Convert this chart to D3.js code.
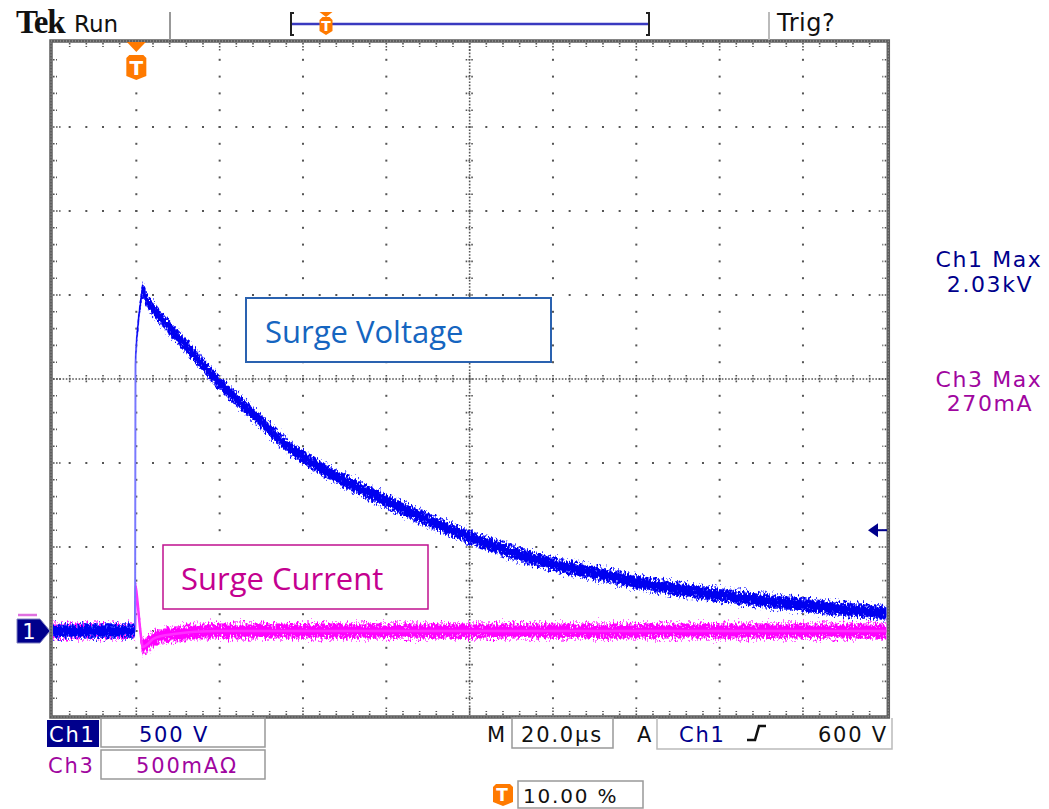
<!DOCTYPE html>
<html><head><meta charset="utf-8">
<script src="https://cdn.jsdelivr.net/npm/d3@7"></script>
<style>body{margin:0;background:#fff}svg{display:block}</style>
</head><body><svg id="c" width="1049" height="809" font-family="'DejaVu Sans',sans-serif"></svg>
<script>
// ---- data ----
const timeV   = [-20, -0.3, -0.2, 0.4, 1.0, 1.6, 2.4, 4, 8, 12, 19.3, 28, 36, 51, 61, 70, 80, 90, 99, 109, 120, 140, 160, 180]; // µs
const voltage = [0, 0, 1583, 1821, 1950, 2030, 1975, 1920, 1804, 1696, 1494, 1292, 1107, 881, 762, 661, 560, 470, 405, 351, 292, 214, 155, 107]; // V
const timeI   = [-20, -0.3, -0.2, 0.3, 0.8, 1.6, 2.6, 4, 6, 9, 14, 20, 180]; // µs
const current = [0, 0, 270, 170, 40, -95, -80, -48, -30, -18, -5, 0, 0]; // mA
const timeDomain = [-20, 180];   // 20 µs/div, trigger at 10 %
const ch1Domain  = [-500, 3500]; // 500 V/div
const ch3Domain  = [-500, 3500]; // 500 mA/div
const trigLevel  = 600;          // V
const xDivs = 10, yDivs = 8;
const readouts = {ch1Scale: "500 V", ch3Scale: "500mAΩ", timebase: "20.0µs", trigSrc: "Ch1", trigLvl: "600 V", trigPos: "10.00 %",
  ch1Max: ["Ch1 Max", "2.03kV"], ch3Max: ["Ch3 Max", "270mA"]};
const labels = {v: "Surge Voltage", i: "Surge Current"};

// ---- layout ----
const L = 53, R = 886.3, T = 43, B = 715;
const NAVY = "#00008c", PURP = "#a0069f", ORANGE = "#ff7a00", GRID = "#555";
const svg = d3.select("#c");
const x = d3.scaleLinear(timeDomain, [L, R]);
const yV = d3.scaleLinear(ch1Domain, [B, T]);
const yI = d3.scaleLinear(ch3Domain, [B, T]);
const dx = (R - L) / xDivs, dy = (B - T) / yDivs;

const defs = svg.append("defs");
function noiseFilter(id, seed, sc) {
  const f = defs.append("filter").attr("id", id).attr("filterUnits", "userSpaceOnUse")
    .attr("x", 0).attr("y", 0).attr("width", 1049).attr("height", 809);
  f.append("feTurbulence").attr("type", "fractalNoise").attr("baseFrequency", "0.6 0.3")
    .attr("numOctaves", 2).attr("seed", seed).attr("result", "t");
  f.append("feColorMatrix").attr("in", "t").attr("type", "matrix")
    .attr("values", "0 0 0 0 0.5  0 1 0 0 0  0 0 0 0 0  0 0 0 0 1").attr("result", "m");
  f.append("feDisplacementMap").attr("in", "SourceGraphic").attr("in2", "m").attr("scale", sc)
    .attr("xChannelSelector", "R").attr("yChannelSelector", "G");
}
noiseFilter("nB", 3, 14);
noiseFilter("nM", 7, 16);

// ---- grid ----
const g = svg.append("g");
const minorX = d3.range(1, xDivs * 5).map(k => L + k * dx / 5);
const minorY = d3.range(1, yDivs * 5).map(k => T + k * dy / 5);
for (let i = 1; i < xDivs; i++) {
  if (i === xDivs / 2) continue;
  const xx = L + i * dx;
  minorY.forEach(yy => g.append("rect").attr("x", xx - 1).attr("y", yy - 1).attr("width", 2).attr("height", 2).attr("fill", GRID));
}
for (let j = 1; j < yDivs; j++) {
  if (j === yDivs / 2) continue;
  const yy = T + j * dy;
  minorX.forEach(xx => g.append("rect").attr("x", xx - 1).attr("y", yy - 1).attr("width", 2).attr("height", 2).attr("fill", GRID));
}
const cx = L + dx * xDivs / 2, cy = T + dy * yDivs / 2;
g.append("line").attr("x1", L).attr("x2", R).attr("y1", cy).attr("y2", cy)
  .attr("stroke", GRID).attr("stroke-width", 1.6).attr("stroke-dasharray", "1.6,1.6");
g.append("line").attr("x1", cx).attr("x2", cx).attr("y1", T).attr("y2", B)
  .attr("stroke", GRID).attr("stroke-width", 1.6).attr("stroke-dasharray", "1.6,1.6");
minorX.forEach(xx => g.append("line").attr("x1", xx).attr("x2", xx).attr("y1", cy - 4).attr("y2", cy + 4)
  .attr("stroke", GRID).attr("stroke-width", 1.6).attr("stroke-dasharray", "1.6,1.2"));
minorY.forEach(yy => g.append("line").attr("x1", cx - 4).attr("x2", cx + 4).attr("y1", yy).attr("y2", yy)
  .attr("stroke", GRID).attr("stroke-width", 1.6).attr("stroke-dasharray", "1.6,1.2"));
function tk(x1, y1, x2, y2) {
  g.append("line").attr("x1", x1).attr("y1", y1).attr("x2", x2).attr("y2", y2)
    .attr("stroke", GRID).attr("stroke-width", 1.6).attr("stroke-dasharray", "1.6,1.4");
}
minorX.forEach((xx, k) => { const len = (k + 1) % 5 === 0 ? 9 : 4; tk(xx, T, xx, T + len); tk(xx, B, xx, B - len); });
minorY.forEach((yy, k) => { const len = (k + 1) % 5 === 0 ? 9 : 4; tk(L, yy, L + len, yy); tk(R, yy, R - len, yy); });
g.append("rect").attr("x", L - 2).attr("y", T - 2).attr("width", R - L + 4).attr("height", B - T + 4)
  .attr("fill", "none").attr("stroke", "#5e5e5e").attr("stroke-width", 3.5);
g.append("rect").attr("x", L - 2).attr("y", T - 2).attr("width", R - L + 4).attr("height", B - T + 4)
  .attr("fill", "none").attr("stroke", "#aaa").attr("stroke-width", 1).attr("stroke-dasharray", "1,2");

// ---- traces ----
const vData = timeV.map((t, i) => ({t, v: voltage[i]}));
const iData = timeI.map((t, i) => ({t, v: current[i]}));
function band(data, ys, hw) {
  return d3.area().x(d => x(d.t)).y0(d => ys(d.v) - hw).y1(d => ys(d.v) + hw).curve(d3.curveMonotoneX)(data);
}
const lineV = d3.line().x(d => x(d.t)).y(d => yV(d.v)).curve(d3.curveMonotoneX);
const lineI = d3.line().x(d => x(d.t)).y(d => yI(d.v)).curve(d3.curveMonotoneX);
const tr = svg.append("g");
tr.append("path").attr("d", band(iData, yI, 8)).attr("fill", "#ff70ff").attr("filter", "url(#nM)");
tr.append("path").attr("d", band(iData, yI, 6)).attr("fill", "#ff00ff").attr("filter", "url(#nM)");
tr.append("path").attr("d", lineI(iData)).attr("fill", "none").attr("stroke", "#ff30ff").attr("stroke-width", 2.5);
tr.append("path").attr("d", lineV(vData)).attr("fill", "none").attr("stroke", "#7b7bff").attr("stroke-width", 2);
tr.append("path").attr("d", band(vData, yV, 7)).attr("fill", "#5050ff").attr("filter", "url(#nB)");
tr.append("path").attr("d", band(vData, yV, 5.5)).attr("fill", "#0000f0").attr("filter", "url(#nB)");

// ---- markers ----
function tShape(gg, cxm, t0, w, h) {
  gg.append("path").attr("d", `M${cxm - w / 2},${t0}L${cxm + w / 2},${t0}L${cxm},${t0 + h}Z`).attr("fill", ORANGE);
}
function tBox(gg, cxm, t0, w, h, fs) {
  gg.append("path").attr("d", `M${cxm - w / 2 + 3},${t0}H${cxm + w / 2 - 3}L${cxm + w / 2},${t0 + 3}V${t0 + h - 4}L${cxm},${t0 + h}L${cxm - w / 2},${t0 + h - 4}V${t0 + 3}Z`).attr("fill", ORANGE);
  gg.append("text").attr("x", cxm).attr("y", t0 + h * 0.78).attr("text-anchor", "middle").attr("fill", "#fff")
    .attr("font-weight", "bold").attr("font-size", fs).text("T");
}
const mk = svg.append("g");
tShape(mk, x(0), T - 1, 19, 10);
tBox(mk, x(0), 55, 20, 25, 20);
mk.append("line").attr("x1", 18).attr("x2", 37).attr("y1", yI(0) - 16).attr("y2", yI(0) - 16).attr("stroke", "#e070e0").attr("stroke-width", 2.5);
const gy = yV(0);
mk.append("path").attr("d", `M17,${gy - 12}H40L50,${gy}L40,${gy + 12}H17Z`).attr("fill", NAVY).attr("stroke", "#8080c0").attr("stroke-width", 1);
mk.append("text").attr("x", 29).attr("y", gy + 8).attr("text-anchor", "middle").attr("fill", "#fff").attr("font-size", 21).text("1");
const ty = yV(trigLevel);
mk.append("path").attr("d", `M868,${ty}L878,${ty - 7}V${ty + 7}Z`).attr("fill", NAVY);
mk.append("line").attr("x1", 876).attr("x2", 887).attr("y1", ty).attr("y2", ty).attr("stroke", NAVY).attr("stroke-width", 2);

// ---- top bar ----
const topBar = svg.append("g");
topBar.append("text").attr("x", 16).attr("y", 33).attr("font-family", "'Liberation Serif',serif").attr("font-weight", "bold")
  .attr("font-size", 33).attr("letter-spacing", -1.2).attr("fill", "#111").text("Tek");
topBar.append("text").attr("x", 74).attr("y", 32).attr("font-size", 23).attr("fill", "#111").text("Run");
topBar.append("line").attr("x1", 170).attr("x2", 170).attr("y1", 12).attr("y2", 40).attr("stroke", "#999").attr("stroke-width", 2);
topBar.append("line").attr("x1", 769).attr("x2", 769).attr("y1", 12).attr("y2", 40).attr("stroke", "#bbb").attr("stroke-width", 2);
topBar.append("text").attr("x", 777).attr("y", 31).attr("font-size", 24).attr("fill", "#111").attr("letter-spacing", 0.5).text("Trig?");
topBar.append("line").attr("x1", 292).attr("x2", 648).attr("y1", 24).attr("y2", 24).attr("stroke", "#3a3ac0").attr("stroke-width", 2.5);
topBar.append("path").attr("d", "M294,13H291V35H294").attr("fill", "none").attr("stroke", "#222").attr("stroke-width", 2);
topBar.append("path").attr("d", "M646,13H649V35H646").attr("fill", "none").attr("stroke", "#222").attr("stroke-width", 2);
tShape(topBar, 326, 12, 13, 5);
tBox(topBar, 326, 17, 13, 18, 14);

// ---- right readouts ----
const rr = svg.append("g").attr("font-size", 22).attr("letter-spacing", 1.6).attr("text-anchor", "middle");
rr.append("text").attr("x", 989).attr("y", 267).attr("fill", NAVY).text(readouts.ch1Max[0]);
rr.append("text").attr("x", 990).attr("y", 292).attr("fill", NAVY).text(readouts.ch1Max[1]);
rr.append("text").attr("x", 989).attr("y", 387).attr("fill", PURP).text(readouts.ch3Max[0]);
rr.append("text").attr("x", 990).attr("y", 411).attr("fill", PURP).text(readouts.ch3Max[1]);

// ---- bottom readouts ----
const bt = svg.append("g").attr("font-size", 21).attr("letter-spacing", 1.8);
bt.append("rect").attr("x", 47).attr("y", 720).attr("width", 52).attr("height", 27).attr("fill", NAVY);
bt.append("text").attr("x", 49).attr("y", 742).attr("fill", "#fff").text("Ch1");
bt.append("rect").attr("x", 101).attr("y", 718).attr("width", 164).attr("height", 29).attr("fill", "none").attr("stroke", "#999").attr("stroke-width", 1.5);
bt.append("text").attr("x", 174).attr("y", 742).attr("text-anchor", "middle").attr("fill", NAVY).text(readouts.ch1Scale);
bt.append("text").attr("x", 48).attr("y", 773).attr("fill", PURP).text("Ch3");
bt.append("rect").attr("x", 101).attr("y", 750).attr("width", 164).attr("height", 29).attr("fill", "none").attr("stroke", "#999").attr("stroke-width", 1.5);
bt.append("text").attr("x", 187).attr("y", 773).attr("text-anchor", "middle").attr("fill", PURP).text(readouts.ch3Scale);
bt.append("text").attr("x", 487).attr("y", 742).attr("fill", "#111").text("M");
bt.append("rect").attr("x", 512).attr("y", 718).attr("width", 101).attr("height", 30).attr("fill", "none").attr("stroke", "#999").attr("stroke-width", 1.5);
bt.append("text").attr("x", 562).attr("y", 742).attr("text-anchor", "middle").attr("fill", "#111").text(readouts.timebase);
bt.append("text").attr("x", 637).attr("y", 742).attr("fill", "#111").text("A");
bt.append("path").attr("d", "M657,718V749H892V718").attr("fill", "none").attr("stroke", "#bbb").attr("stroke-width", 1.5);
bt.append("text").attr("x", 679).attr("y", 742).attr("fill", NAVY).text(readouts.trigSrc);
bt.append("path").attr("d", "M747,740H755L759,726H766").attr("fill", "none").attr("stroke", "#111").attr("stroke-width", 2.6);
bt.append("text").attr("x", 888).attr("y", 742).attr("text-anchor", "end").attr("fill", "#111").text(readouts.trigLvl);
tBox(bt, 503, 784, 20, 22, 17);
bt.append("rect").attr("x", 518).attr("y", 781).attr("width", 125).attr("height", 27).attr("fill", "none").attr("stroke", "#999").attr("stroke-width", 1.5);
bt.append("text").attr("x", 523).attr("y", 803).attr("font-size", 20).attr("fill", "#111").text(readouts.trigPos);

// ---- annotation boxes ----
const an = svg.append("g").attr("font-family", "'Open Sans',sans-serif");
an.append("rect").attr("x", 246).attr("y", 298).attr("width", 305).attr("height", 64).attr("fill", "#fff").attr("stroke", "#2a62b0").attr("stroke-width", 2);
an.append("text").attr("x", 265).attr("y", 343).attr("font-size", 31).attr("fill", "#1565c0").text(labels.v);
an.append("rect").attr("x", 163).attr("y", 545).attr("width", 265).attr("height", 64).attr("fill", "#fff").attr("stroke", "#c0108f").attr("stroke-width", 1.5);
an.append("text").attr("x", 181).attr("y", 590).attr("font-size", 31).attr("fill", "#c4008f").text(labels.i);
</script></body></html>
